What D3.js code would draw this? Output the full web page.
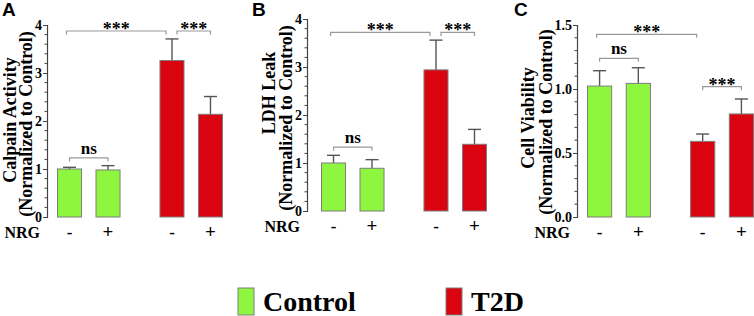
<!DOCTYPE html>
<html>
<head>
<meta charset="utf-8">
<script src="https://cdn.jsdelivr.net/npm/d3@7"></script>
<style>
  html, body { margin: 0; padding: 0; background: #fff; }
  svg { display: block; }
  text { font-family: "Liberation Serif", "Times New Roman", serif; font-weight: bold; fill: #000; }
  .panel-letter { font-family: "Liberation Sans", Arial, sans-serif; font-size: 19px; }
</style>
</head>
<body>
<div id="chart"></div>
<script>
// ---- data ----
const groups = ["Control", "T2D"];
const nrgLevels = ["-", "+"];

const calpainMean = [1.00, 0.98, 3.26, 2.14];
const calpainErr = [0.035, 0.09, 0.45, 0.37];

const ldhMean = [1.00, 0.89, 2.94, 1.39];
const ldhErr = [0.16, 0.18, 0.62, 0.31];

const viabilityMean = [1.023, 1.044, 0.591, 0.805];
const viabilityErr = [0.12, 0.122, 0.057, 0.117];

const ticks4 = [0, 1, 2, 3, 4];
const ticks15 = [0, 0.5, 1.0, 1.5];

// significance brackets: bar indices and level in data units
const calpainSig = [
    { from: 0, to: 2, level: 3.875, label: "***" },
    { from: 2, to: 3, level: 3.875, label: "***" },
    { from: 0, to: 1, level: 1.23, label: "ns" }
];
const ldhSig = [
    { from: 0, to: 2, level: 3.72, label: "***" },
    { from: 2, to: 3, level: 3.72, label: "***" },
    { from: 0, to: 1, level: 1.33, label: "ns" }
];
const viabilitySig = [
    { from: 0, to: 2, level: 1.427, label: "***" },
    { from: 0, to: 1, level: 1.24, label: "ns" },
    { from: 2, to: 3, level: 1.018, label: "***" }
];

const colors = { Control: "#8ef63e", T2D: "#d9040f" };

const W = 754, H = 316;
const svg = d3.select("#chart").append("svg").attr("width", W).attr("height", H);

const panels = [
    {
        letter: "A", letterX: 2, axisX: 47, bars: [57, 223], yRange: [217, 25],
        max: 4, ticks: ticks4, minor: 0.2, fmt: d3.format("d"),
        mean: calpainMean, err: calpainErr, sig: calpainSig,
        label: ["Calpain Activity", "(Normalized to Control)"],
        labelX: [16, 32], labelY: [120, 124], nrgY: 238
    },
    {
        letter: "B", letterX: 252, axisX: 307, bars: [321, 487], yRange: [211, 19],
        max: 4, ticks: ticks4, minor: 0.2, fmt: d3.format("d"),
        mean: ldhMean, err: ldhErr, sig: ldhSig,
        label: ["LDH Leak", "(Normalized to Control)"],
        labelX: [275, 292], labelY: [93, 118], nrgY: 232
    },
    {
        letter: "C", letterX: 514, axisX: 577, bars: [587, 754], yRange: [217, 25],
        max: 1.5, ticks: ticks15, minor: 0.1, fmt: d3.format(".1f"),
        mean: viabilityMean, err: viabilityErr, sig: viabilitySig,
        label: ["Cell Viability", "(Normalized to Control)"],
        labelX: [534, 552], labelY: [118, 122], nrgY: 238
    }
];

panels.forEach(drawPanel);

function drawPanel(p) {
    const g = svg.append("g");
    const y = d3.scaleLinear().domain([0, p.max]).range(p.yRange);
    const outer = d3.scaleBand().domain(groups).range(p.bars).paddingInner(0.38).paddingOuter(0);
    const inner = d3.scaleBand().domain(nrgLevels).range([0, outer.bandwidth()]).paddingInner(0.35).paddingOuter(0);

    const rows = p.mean.map((m, i) => ({
        i, group: groups[Math.floor(i / 2)], nrg: nrgLevels[i % 2], mean: m, err: p.err[i]
    }));
    const barX = d => outer(d.group) + inner(d.nrg);
    const centre = i => barX(rows[i]) + inner.bandwidth() / 2;

    g.append("text").attr("class", "panel-letter")
        .attr("x", p.letterX).attr("y", 16).text(p.letter);

    // y axis
    const axis = g.append("g").attr("transform", `translate(${p.axisX},0)`);
    axis.call(d3.axisLeft(y).tickValues(p.ticks).tickFormat(p.fmt).tickSizeOuter(0).tickSize(4).tickPadding(1));
    axis.select(".domain").attr("stroke", "#444").attr("stroke-width", 1.2);
    axis.selectAll(".tick line").attr("stroke", "#444");
    axis.selectAll(".tick text")
        .attr("font-family", "Liberation Serif, serif").attr("font-weight", "bold")
        .attr("font-size", 14).attr("fill", "#000").attr("dy", "0.34em");

    const minorTicks = d3.range(0, p.max + 1e-9, p.minor)
        .filter(v => !p.ticks.some(t => Math.abs(t - v) < 1e-6));
    axis.selectAll("line.minor").data(minorTicks).enter().append("line")
        .attr("class", "minor")
        .attr("x1", -2.5).attr("x2", 0)
        .attr("y1", d => y(d)).attr("y2", d => y(d))
        .attr("stroke", "#444");

    // y label, two lines
    p.label.forEach((txt, k) => {
        g.append("text")
            .attr("transform", `translate(${p.labelX[k]},${p.labelY[k]}) rotate(-90)`)
            .attr("text-anchor", "middle")
            .attr("font-size", 18)
            .text(txt);
    });

    // error bars (upper only)
    const eb = g.append("g").attr("stroke", "#555").attr("stroke-width", 1.4);
    eb.selectAll("line.stem").data(rows).enter().append("line")
        .attr("x1", d => barX(d) + inner.bandwidth() / 2)
        .attr("x2", d => barX(d) + inner.bandwidth() / 2)
        .attr("y1", d => y(d.mean)).attr("y2", d => y(d.mean + d.err));
    eb.selectAll("line.cap").data(rows).enter().append("line")
        .attr("x1", d => barX(d) + inner.bandwidth() / 2 - 6.5)
        .attr("x2", d => barX(d) + inner.bandwidth() / 2 + 6.5)
        .attr("y1", d => y(d.mean + d.err)).attr("y2", d => y(d.mean + d.err));

    // bars
    g.selectAll("rect.bar").data(rows).enter().append("rect")
        .attr("class", "bar")
        .attr("x", d => barX(d) + 0.5)
        .attr("y", d => y(d.mean))
        .attr("width", inner.bandwidth() - 1)
        .attr("height", d => y(0) - y(d.mean))
        .attr("fill", d => colors[d.group])
        .attr("stroke", "#7d7d7d")
        .attr("stroke-width", 1);

    // significance brackets
    p.sig.forEach(s => {
        let x1 = centre(s.from), x2 = centre(s.to);
        if (s.to - s.from > 1) { x1 -= 3; x2 -= 6; }
        else if (p.sig.some(o => o !== s && o.to === s.from && o.level === s.level)) x1 += 5;
        const yy = y(s.level);
        g.append("path")
            .attr("d", `M${x1},${yy + 3.5}V${yy}H${x2}V${yy + 3.5}`)
            .attr("fill", "none").attr("stroke", "#999").attr("stroke-width", 1.2);
        const stars = s.label === "***";
        g.append("text")
            .attr("x", (x1 + x2) / 2)
            .attr("y", stars ? yy + 4 : yy - 4)
            .attr("text-anchor", "middle")
            .attr("font-size", stars ? 18 : 17)
            .text(s.label);
    });

    // NRG row
    g.append("text").attr("x", p.axisX - 7).attr("y", p.nrgY)
        .attr("text-anchor", "end").attr("font-size", 16).text("NRG");
    g.selectAll("text.sign").data(rows).enter().append("text")
        .attr("class", "sign")
        .attr("x", d => barX(d) + inner.bandwidth() / 2)
        .attr("y", p.nrgY)
        .attr("text-anchor", "middle")
        .attr("font-size", d => d.nrg === "+" ? 19 : 17)
        .text(d => d.nrg);
}

// legend
const legendX = d3.scaleOrdinal().domain(groups).range([238, 446]);
const leg = svg.append("g").selectAll("g").data(groups).enter().append("g")
    .attr("transform", d => `translate(${legendX(d)},288)`);
leg.append("rect").attr("width", 16).attr("height", 27)
    .attr("fill", d => colors[d]).attr("stroke", "#7d7d7d");
leg.append("text").attr("x", 25).attr("y", 23).attr("font-size", 28).text(d => d);
</script>
</body>
</html>
